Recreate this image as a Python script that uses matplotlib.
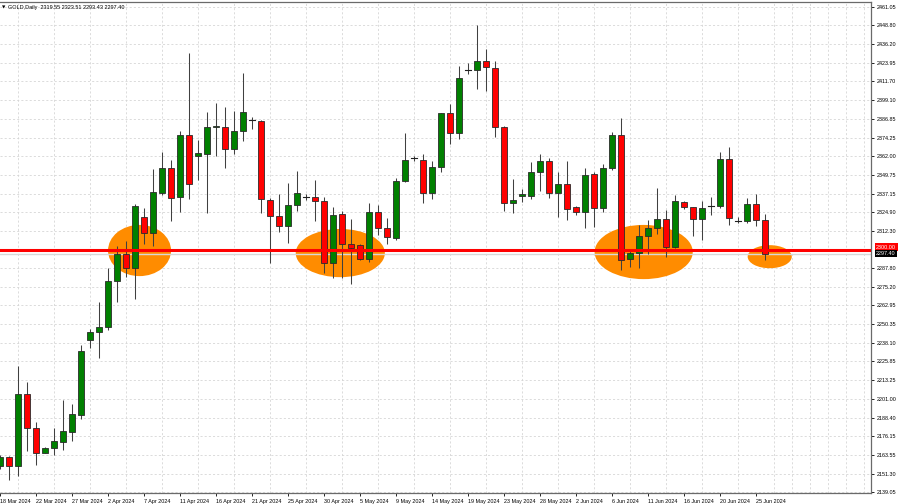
import matplotlib.pyplot as plt
from matplotlib.patches import Rectangle, Ellipse
import numpy as np

# daily OHLC, one bar per trading day (Sunday bars included)
opens = [2156.31, 2162.49, 2156.51, 2203.92, 2181.34, 2165.14, 2168.06, 2172.44, 2179.09, 2189.97,
         2239.97, 2245.47, 2248.40, 2279.14, 2296.87, 2288.10, 2321.83, 2310.81, 2337.90, 2354.16,
         2334.91, 2375.87, 2361.93, 2363.79, 2381.18, 2381.71, 2366.78, 2378.73, 2386.36, 2385.56,
         2332.92, 2322.49, 2315.45, 2329.93, 2335.11, 2335.11, 2332.45, 2290.89, 2323.42, 2303.50,
         2302.84, 2293.55, 2325.15, 2314.53, 2308.02, 2345.73, 2360.60, 2359.47, 2337.76, 2354.63,
         2390.48, 2377.20, 2419.23, 2419.23, 2425.20, 2420.75, 2381.18, 2331.12, 2335.57, 2335.57,
         2351.31, 2358.81, 2337.56, 2343.34, 2328.07, 2325.15, 2349.98, 2327.80, 2353.96, 2376.07,
         2293.95, 2297.93, 2309.22, 2314.53, 2320.30, 2301.51, 2331.59, 2328.07, 2320.10, 2328.93,
         2328.93, 2360.14, 2318.97, 2318.97, 2330.06, 2319.55]
highs = [2163.62, 2163.00, 2222.90, 2212.28, 2185.73, 2168.93, 2181.34, 2200.13, 2197.47, 2236.65,
         2247.27, 2265.40, 2287.97, 2302.18, 2305.50, 2330.06, 2327.80, 2353.50, 2364.65, 2359.80,
         2378.73, 2430.84, 2372.62, 2391.14, 2397.52, 2394.99, 2392.14, 2417.43, 2388.35, 2386.03,
         2334.05, 2336.90, 2344.20, 2352.17, 2336.70, 2346.19, 2335.11, 2328.07, 2325.42, 2320.10,
         2303.70, 2331.12, 2329.60, 2320.77, 2347.32, 2377.60, 2362.13, 2363.26, 2358.81, 2390.88,
         2396.45, 2421.88, 2424.07, 2449.10, 2432.97, 2425.40, 2382.25, 2346.66, 2340.02, 2357.95,
         2363.46, 2361.00, 2351.31, 2359.01, 2328.93, 2354.16, 2351.70, 2356.82, 2378.26, 2387.16,
         2299.25, 2316.32, 2319.64, 2341.08, 2326.28, 2336.24, 2332.45, 2328.47, 2332.38, 2334.71,
         2364.98, 2368.30, 2321.83, 2334.05, 2336.70, 2323.51]
lows = [2154.33, 2147.02, 2149.67, 2166.47, 2156.98, 2164.74, 2163.62, 2166.94, 2172.91, 2187.31,
        2234.85, 2228.22, 2246.61, 2265.14, 2281.79, 2267.32, 2303.84, 2302.71, 2336.24, 2318.97,
        2325.15, 2333.38, 2346.19, 2324.09, 2362.33, 2353.96, 2363.26, 2372.09, 2380.25, 2324.49,
        2290.89, 2311.67, 2304.17, 2325.61, 2332.92, 2319.17, 2284.65, 2280.93, 2281.13, 2276.95,
        2293.08, 2291.55, 2309.68, 2303.50, 2306.36, 2345.07, 2359.01, 2331.12, 2333.78, 2351.31,
        2370.10, 2373.22, 2416.57, 2406.61, 2405.48, 2374.54, 2325.81, 2324.49, 2331.59, 2333.38,
        2339.09, 2334.05, 2321.83, 2319.64, 2322.76, 2314.13, 2315.19, 2325.15, 2352.83, 2286.44,
        2288.63, 2287.57, 2297.06, 2310.14, 2295.27, 2300.85, 2326.74, 2309.22, 2306.36, 2322.96,
        2327.40, 2316.32, 2317.45, 2317.45, 2315.65, 2293.43]
closes = [2162.49, 2156.51, 2203.92, 2181.34, 2165.14, 2168.26, 2172.71, 2179.55, 2190.64, 2232.86,
          2245.47, 2248.40, 2279.14, 2296.87, 2288.10, 2328.93, 2310.81, 2338.03, 2354.16, 2334.58,
          2375.94, 2343.54, 2363.92, 2381.18, 2381.85, 2366.78, 2378.73, 2391.54, 2386.36, 2333.38,
          2322.49, 2315.45, 2329.93, 2337.36, 2335.11, 2332.45, 2290.89, 2322.96, 2303.57, 2301.39,
          2293.55, 2325.15, 2314.53, 2308.15, 2345.73, 2359.47, 2360.60, 2337.76, 2354.63, 2390.48,
          2377.20, 2413.71, 2419.23, 2425.20, 2421.02, 2381.18, 2331.12, 2332.92, 2336.70, 2351.31,
          2358.81, 2337.56, 2343.34, 2326.74, 2325.15, 2349.51, 2327.80, 2353.96, 2376.07, 2293.08,
          2297.93, 2309.22, 2314.53, 2320.30, 2301.51, 2332.45, 2328.27, 2320.10, 2327.40, 2328.93,
          2360.14, 2321.16, 2318.97, 2330.06, 2319.64, 2297.40]

date_labels = ["18 Mar 2024", "22 Mar 2024", "27 Mar 2024", "2 Apr 2024", "7 Apr 2024",
               "11 Apr 2024", "16 Apr 2024", "21 Apr 2024", "25 Apr 2024", "30 Apr 2024",
               "5 May 2024", "9 May 2024", "14 May 2024", "19 May 2024", "23 May 2024",
               "28 May 2024", "2 Jun 2024", "6 Jun 2024", "11 Jun 2024", "16 Jun 2024",
               "20 Jun 2024", "25 Jun 2024"]

price_ticks = [2461.05, 2448.80, 2436.20, 2423.95, 2411.70, 2399.10, 2386.85, 2374.25, 2362.00,
               2349.75, 2337.15, 2324.90, 2312.30, 2287.80, 2275.20, 2262.95, 2250.35, 2238.10,
               2225.85, 2213.25, 2201.00, 2188.40, 2176.15, 2163.55, 2151.30, 2139.05]

level = 2300.00

# support zones drawn by hand: (bar index, price, width in bars, height in price)
zones = [(15.5, 2299.4, 7.0, 34.0),
         (37.8, 2297.7, 9.9, 32.0),
         (71.5, 2298.4, 10.9, 36.0),
         (85.5, 2295.3, 4.9, 15.3)]

plt.rcParams['font.family'] = ['Liberation Sans', 'DejaVu Sans']

fig = plt.figure(figsize=(9, 5.04), dpi=100)
ax = fig.add_axes([0.0, 11 / 504, 871 / 900, 491 / 504])

n = len(opens)
x = np.arange(n)
body_w = 0.64

for (cx, cy, w, h) in zones:
    ax.add_patch(Ellipse((cx, cy), w, h, facecolor='#ff8c00', edgecolor='none', zorder=1))

for i in range(n):
    o, h, l, c = opens[i], highs[i], lows[i], closes[i]
    ax.plot([x[i], x[i]], [l, h], color='#404040', lw=0.75, zorder=3, solid_capstyle='butt')
    if c == o:
        ax.plot([x[i] - body_w / 2, x[i] + body_w / 2], [o, o], color='#202020', lw=0.8, zorder=4)
        continue
    col = '#008000' if c > o else '#ff0000'
    ax.add_patch(Rectangle((x[i] - body_w / 2, min(o, c)), body_w, abs(c - o),
                           facecolor=col, edgecolor='#2a2a2a', lw=0.6, zorder=4))

# bid line and the horizontal level
ax.axhline(closes[-1], color='#d8d8d8', lw=1.0, zorder=2)
ax.axhline(level, color='#ff0000', lw=2.2, zorder=5)

ax.set_xlim(0.1, 96.75)
ax.set_ylim(2138.4, 2464.4)

ax.yaxis.tick_right()
ax.set_yticks(price_ticks)
ax.set_yticklabels(["%.2f" % v for v in price_ticks])
ax.tick_params(axis='y', length=2.5, width=0.6, pad=1.5, labelsize=3.9, colors='#000000')

ax.set_xticks(x[::4][:len(date_labels)])
ax.set_xticklabels(date_labels, ha='left')
ax.set_xticks(np.arange(0, 97, 2), minor=True)
ax.tick_params(axis='x', which='major', length=2.5, width=0.6, pad=1.5, labelsize=3.9)
ax.tick_params(axis='x', which='minor', length=0)

ax.grid(True, axis='y', color='#d6d6d6', lw=0.6, ls=(0, (2.5, 2.5)), zorder=0)
ax.grid(True, axis='x', which='minor', color='#d6d6d6', lw=0.6, ls=(0, (2.5, 2.5)), zorder=0)
ax.set_axisbelow(True)

for s in ['top', 'right', 'bottom']:
    ax.spines[s].set_color('#6a6a6a')
    ax.spines[s].set_linewidth(0.9)
ax.spines['left'].set_visible(False)

# price labels on the axis
tr = ax.get_yaxis_transform()
ax.text(1.006, level, "%.2f" % level, transform=tr, fontsize=3.9, color='white', va='bottom',
        ha='left', bbox=dict(boxstyle='square,pad=0.25', fc='#ff0000', ec='none'), clip_on=False)
ax.text(1.006, closes[-1], "%.2f" % closes[-1], transform=tr, fontsize=3.9, color='white',
        va='center', ha='left', bbox=dict(boxstyle='square,pad=0.25', fc='#000000', ec='none'),
        clip_on=False)

header = "GOLD,Daily  %.2f %.2f %.2f %.2f" % (opens[-1], highs[-1], lows[-1], closes[-1])
ax.text(0.0025, 0.993, "\u25bc", transform=ax.transAxes, fontsize=3.2, va='top', ha='left',
        family='DejaVu Sans')
ax.text(0.009, 0.994, header, transform=ax.transAxes, fontsize=4.0, va='top', ha='left')

fig.savefig('out.png', dpi=100, facecolor='white')
